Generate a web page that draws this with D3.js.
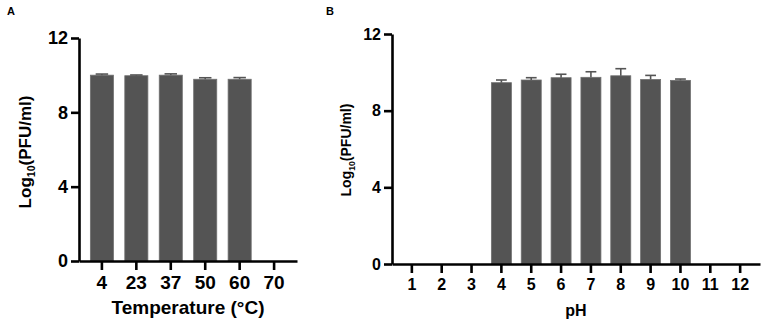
<!DOCTYPE html>
<html>
<head>
<meta charset="utf-8">
<script src="https://cdn.jsdelivr.net/npm/d3@7"></script>
<style>
  body { margin: 0; background: #fff; }
  text { font-family: "Liberation Sans", Arial, sans-serif; font-weight: bold; }
</style>
</head>
<body>
<svg id="fig" width="767" height="323"></svg>
<script>
// Panel A: temperature
var tempCats = ["4", "23", "37", "50", "60", "70"];
var tempMeans = [10.0, 9.97, 10.0, 9.78, 9.78, 0];
var tempErr = [0.06, 0.04, 0.07, 0.08, 0.09, 0];

// Panel B: pH
var phCats = ["1", "2", "3", "4", "5", "6", "7", "8", "9", "10", "11", "12"];
var phMeans = [0, 0, 0, 9.46, 9.60, 9.72, 9.74, 9.82, 9.63, 9.58, 0, 0];
var phErr = [0, 0, 0, 0.14, 0.12, 0.18, 0.29, 0.37, 0.21, 0.07, 0, 0];

var yTicks = [0, 4, 8, 12];

var svg = d3.select("#fig");

function panel(opts) {
  var g = svg.append("g");

  var x = d3.scaleBand()
      .domain(opts.cats)
      .range([opts.left, opts.right])
      .paddingInner(0.33)
      .paddingOuter(0.33);

  var y = d3.scaleLinear()
      .domain([0, 12])
      .range([opts.bottom, opts.top]);

  var data = opts.cats.map(function(c, i) {
    return {cat: c, value: opts.means[i], err: opts.errs[i]};
  }).filter(d => d.value > 0);

  // bars
  g.selectAll("rect.bar")
      .data(data)
    .enter().append("rect")
      .attr("class", "bar")
      .attr("x", d => x(d.cat))
      .attr("y", d => y(d.value))
      .attr("width", x.bandwidth())
      .attr("height", d => y(0) - y(d.value))
      .attr("fill", "#545454")
      .attr("stroke", "#707070")
      .attr("stroke-width", 0.8);

  // error bars, upper only
  var cap = x.bandwidth() * 0.27;
  var eb = g.selectAll("g.err")
      .data(data)
    .enter().append("g")
      .attr("class", "err")
      .attr("stroke", "#555")
      .attr("stroke-width", 1.6);
  eb.append("line")
      .attr("x1", d => x(d.cat) + x.bandwidth() / 2)
      .attr("x2", d => x(d.cat) + x.bandwidth() / 2)
      .attr("y1", d => y(d.value))
      .attr("y2", d => y(d.value + d.err));
  eb.append("line")
      .attr("x1", d => x(d.cat) + x.bandwidth() / 2 - cap)
      .attr("x2", d => x(d.cat) + x.bandwidth() / 2 + cap)
      .attr("y1", d => y(d.value + d.err))
      .attr("y2", d => y(d.value + d.err));

  // axes
  var yAxis = g.append("g")
      .attr("transform", "translate(" + opts.left + ",0)")
      .call(d3.axisLeft(y).tickValues(yTicks).tickSize(8).tickPadding(3).tickSizeOuter(0));
  yAxis.selectAll("text").attr("font-size", opts.yFont).attr("font-family", null);

  var xAxis = g.append("g")
      .attr("transform", "translate(0," + opts.bottom + ")")
      .call(d3.axisBottom(x).tickSize(9).tickPadding(opts.xPad).tickSizeOuter(0));
  xAxis.selectAll("text").attr("font-size", opts.xFont).attr("font-family", null);

  g.selectAll(".domain, .tick line")
      .attr("stroke", "#000")
      .attr("stroke-width", 2.6);
  g.selectAll(".tick text").attr("fill", "#000");

  // axis titles
  var yt = g.append("text")
      .attr("transform", "translate(" + opts.yTitleX + "," + opts.yTitleY + ") rotate(-90)")
      .attr("text-anchor", "middle")
      .attr("font-size", opts.yTitleFont);
  yt.append("tspan").text("Log");
  yt.append("tspan").text("10").attr("font-size", opts.yTitleFont * 0.62).attr("dy", opts.yTitleFont * 0.25);
  yt.append("tspan").text("(PFU/ml)").attr("dy", -opts.yTitleFont * 0.25);

  g.append("text")
      .attr("x", (x(opts.cats[0]) + x(opts.cats[opts.cats.length - 1]) + x.bandwidth()) / 2)
      .attr("y", opts.xTitleY)
      .attr("text-anchor", "middle")
      .attr("font-size", opts.xTitleFont)
      .text(opts.xTitle);

  g.append("text")
      .attr("x", opts.labelX)
      .attr("y", 15)
      .attr("font-size", 11)
      .text(opts.label);
}

panel({
  cats: tempCats, means: tempMeans, errs: tempErr,
  left: 79, right: 297, top: 38, bottom: 261,
  yFont: 18, xFont: 19, xPad: 6,
  yTitleX: 31, yTitleY: 152, yTitleFont: 17,
  xTitle: "Temperature (°C)", xTitleY: 314, xTitleFont: 19,
  label: "A", labelX: 7
});

panel({
  cats: phCats, means: phMeans, errs: phErr,
  left: 392, right: 760, top: 34, bottom: 264,
  yFont: 16, xFont: 16, xPad: 6,
  yTitleX: 351, yTitleY: 150, yTitleFont: 14,
  xTitle: "pH", xTitleY: 316, xTitleFont: 16,
  label: "B", labelX: 326
});
</script>
</body>
</html>
